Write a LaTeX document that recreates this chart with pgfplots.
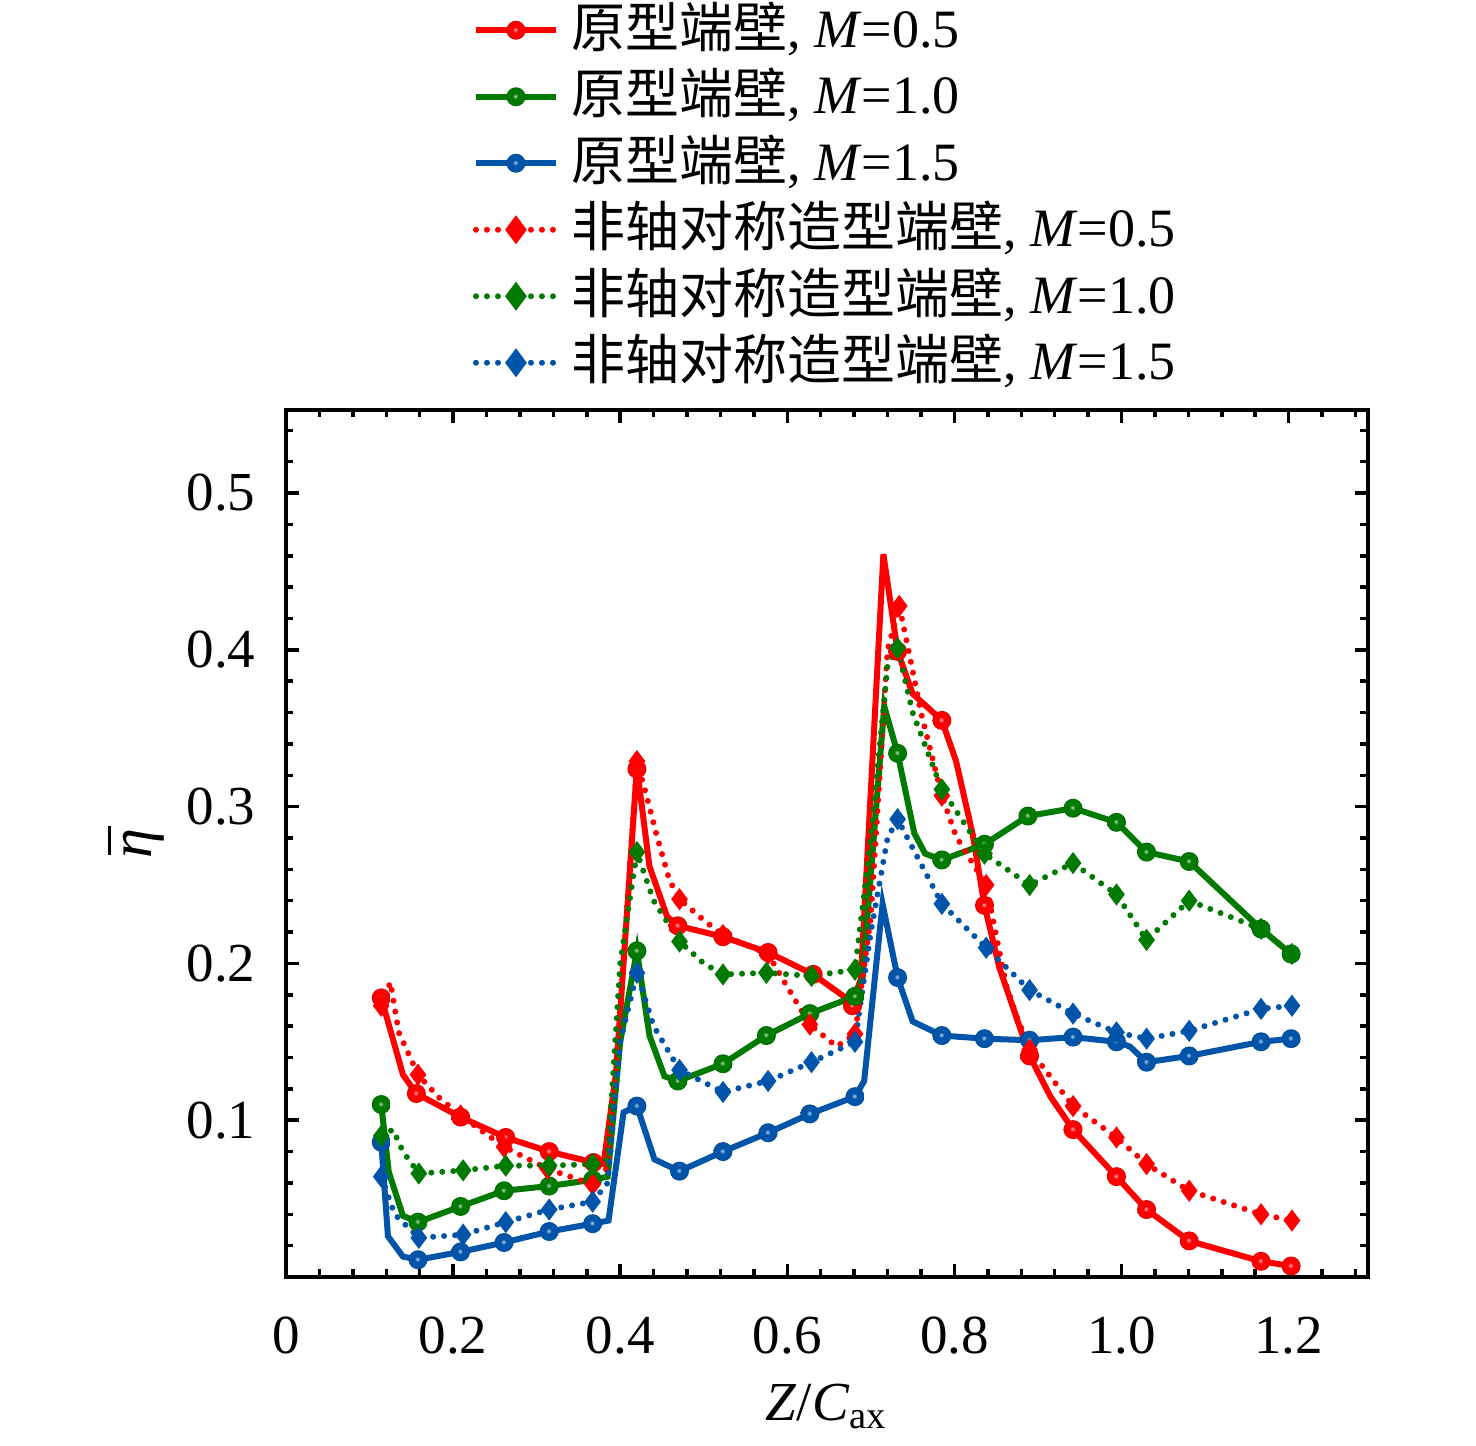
\documentclass[border=0pt]{standalone}
\usepackage{fontspec}
\setmainfont{Liberation Serif}
\newfontfamily\cjk{Noto Sans CJK SC}
\usepackage{pgfplots}
\pgfplotsset{compat=1.18}
\definecolor{cR}{RGB}{255,0,0}
\definecolor{cG}{RGB}{0,122,0}
\definecolor{cB}{RGB}{0,85,170}
\pgfdeclareradialshading{shR}{\pgfqpoint{-2bp}{2bp}}{color(0bp)=(cR!35!white); color(3bp)=(cR!55!white); color(7bp)=(cR); color(21bp)=(cR); color(25bp)=(cR!85!black); color(50bp)=(cR!85!black)}
\pgfdeclareradialshading{shG}{\pgfqpoint{-2bp}{2bp}}{color(0bp)=(cG!35!white); color(3bp)=(cG!55!white); color(7bp)=(cG); color(21bp)=(cG); color(25bp)=(cG!85!black); color(50bp)=(cG!85!black)}
\pgfdeclareradialshading{shB}{\pgfqpoint{-2bp}{2bp}}{color(0bp)=(cB!35!white); color(3bp)=(cB!55!white); color(7bp)=(cB); color(21bp)=(cB); color(25bp)=(cB!85!black); color(50bp)=(cB!85!black)}
\pgfdeclareplotmark{ballR}{\pgfpathcircle{\pgfpointorigin}{\pgfplotmarksize}\pgfshadepath{shR}{0}\pgfusepath{discard}}
\pgfdeclareplotmark{ballG}{\pgfpathcircle{\pgfpointorigin}{\pgfplotmarksize}\pgfshadepath{shG}{0}\pgfusepath{discard}}
\pgfdeclareplotmark{ballB}{\pgfpathcircle{\pgfpointorigin}{\pgfplotmarksize}\pgfshadepath{shB}{0}\pgfusepath{discard}}
\pgfplotsset{
  sline/.style={line width=1.2pt, solid},
  dline/.style={line width=1.2pt, dash pattern=on 0pt off 2.2pt, line cap=round},
}
\begin{document}
\begin{tikzpicture}
\useasboundingbox (-57.2pt,-33.8pt) rectangle (238pt,255.4pt);
\begin{axis}[
  at={(0,0)}, anchor=south west,
  scale only axis, width=216.4pt, height=173.4pt,
  xmin=0, xmax=1.295, ymin=0, ymax=0.553,
  xtick={0,0.2,0.4,0.6,0.8,1.0,1.2},
  xticklabels={0,0.2,0.4,0.6,0.8,1.0,1.2},
  ytick={0.1,0.2,0.3,0.4,0.5},
  yticklabels={0.1,0.2,0.3,0.4,0.5},
  minor xtick={0.04,0.08,0.12,0.16,0.24,0.28,0.32,0.36,0.44,0.48,0.52,0.56,0.64,0.68,0.72,0.76,0.84,0.88,0.92,0.96,1.04,1.08,1.12,1.16,1.24,1.28},
  minor ytick={0.02,0.04,0.06,0.08,0.12,0.14,0.16,0.18,0.22,0.24,0.26,0.28,0.32,0.34,0.36,0.38,0.42,0.44,0.46,0.48,0.52,0.54},
  tick align=inside,
  major tick length=2.6pt, minor tick length=1.5pt,
  axis line style={line width=0.7pt},
  every tick/.append style={line width=0.7pt, black},
  tick label style={font=\fontsize{11}{13}\selectfont},
  /pgf/number format/assume math mode=true,
  xticklabel style={yshift=-4.5pt},
  yticklabel style={xshift=-2.6pt},
  xlabel={\fontsize{11}{13}\selectfont\textit{Z}/\textit{C}\textsubscript{ax}},
  ylabel={\fontsize{12}{14}\selectfont\rlap{\hspace{0.7pt}\rule[8.2pt]{5.8pt}{0.6pt}}\textit{η}},
  xlabel style={yshift=1pt},
  ylabel style={yshift=-2.5pt},
  legend style={at={(rel axis cs:0.158,1.489)}, anchor=north west, draw=none, fill=none,
    font=\fontsize{10.8}{13}\selectfont, row sep=0pt,
    nodes={inner sep=0.5pt, text height=9.5pt, text depth=2.8pt}},
  legend cell align=left,
  legend image code/.code={\draw[mark repeat=2,mark phase=2,#1] plot coordinates {(0pt,0pt)(8pt,0pt)(16pt,0pt)};},
]
\addlegendimage{cR, sline, mark=ballR, mark size=1.9pt}
\addlegendentry{\hspace*{2pt}{\cjk 原型端壁}, \textit{M}=0.5}
\addlegendimage{cG, sline, mark=ballG, mark size=1.9pt}
\addlegendentry{\hspace*{2pt}{\cjk 原型端壁}, \textit{M}=1.0}
\addlegendimage{cB, sline, mark=ballB, mark size=1.9pt}
\addlegendentry{\hspace*{2pt}{\cjk 原型端壁}, \textit{M}=1.5}
\addlegendimage{cR, dline, mark=diamond*, mark size=1.9pt, mark options={solid, fill=cR}}
\addlegendentry{\hspace*{2pt}{\cjk 非轴对称造型端壁}, \textit{M}=0.5}
\addlegendimage{cG, dline, mark=diamond*, mark size=1.9pt, mark options={solid, fill=cG}}
\addlegendentry{\hspace*{2pt}{\cjk 非轴对称造型端壁}, \textit{M}=1.0}
\addlegendimage{cB, dline, mark=diamond*, mark size=1.9pt, mark options={solid, fill=cB}}
\addlegendentry{\hspace*{2pt}{\cjk 非轴对称造型端壁}, \textit{M}=1.5}

% ---------- solid lines ----------
\addplot[cR, sline, no marks, forget plot] coordinates {
(0.114,0.178) (0.14,0.129) (0.156,0.117) (0.209,0.102) (0.263,0.089) (0.315,0.080) (0.368,0.073) (0.38,0.072) (0.395,0.13) (0.42,0.325) (0.435,0.262) (0.456,0.230) (0.469,0.224) (0.523,0.217) (0.577,0.207) (0.631,0.193) (0.678,0.175) (0.688,0.19) (0.715,0.461) (0.732,0.399) (0.750,0.372) (0.785,0.355) (0.802,0.329) (0.822,0.282) (0.836,0.237) (0.854,0.197) (0.89,0.141) (0.915,0.115) (0.942,0.094) (0.994,0.064) (1.030,0.043) (1.081,0.023) (1.167,0.010) (1.203,0.007)};
\addplot[cG, sline, no marks, forget plot] coordinates {
(0.114,0.110) (0.123,0.067) (0.14,0.039) (0.158,0.035) (0.209,0.045) (0.261,0.055) (0.315,0.058) (0.367,0.062) (0.385,0.064) (0.40,0.15) (0.42,0.208) (0.435,0.154) (0.453,0.128) (0.469,0.125) (0.523,0.136) (0.575,0.154) (0.627,0.168) (0.681,0.179) (0.69,0.19) (0.716,0.364) (0.732,0.334) (0.752,0.283) (0.765,0.270) (0.785,0.266) (0.836,0.276) (0.888,0.294) (0.942,0.299) (0.994,0.290) (1.03,0.271) (1.081,0.265) (1.167,0.222) (1.203,0.206)};
\addplot[cB, sline, no marks, forget plot] coordinates {
(0.114,0.086) (0.122,0.026) (0.14,0.013) (0.158,0.011) (0.209,0.016) (0.261,0.022) (0.315,0.029) (0.367,0.034) (0.386,0.036) (0.404,0.105) (0.42,0.109) (0.441,0.075) (0.471,0.0675) (0.523,0.080) (0.577,0.092) (0.627,0.104) (0.681,0.115) (0.692,0.125) (0.714,0.238) (0.732,0.191) (0.750,0.163) (0.785,0.154) (0.836,0.152) (0.89,0.151) (0.942,0.153) (0.994,0.150) (1.01,0.147) (1.03,0.137) (1.081,0.141) (1.167,0.150) (1.203,0.152)};

% ---------- dotted lines ----------
\addplot[cR, dline, no marks, forget plot] coordinates {
(0.114,0.173) (0.125,0.188) (0.135,0.156) (0.147,0.142) (0.158,0.129) (0.182,0.115) (0.209,0.103) (0.261,0.083) (0.313,0.069) (0.367,0.059) (0.385,0.070) (0.40,0.17) (0.42,0.329) (0.432,0.306) (0.444,0.281) (0.459,0.253) (0.471,0.241) (0.499,0.228) (0.523,0.218) (0.577,0.206) (0.60,0.185) (0.627,0.161) (0.659,0.147) (0.681,0.155) (0.70,0.23) (0.72,0.40) (0.734,0.428) (0.745,0.40) (0.76,0.36) (0.785,0.307) (0.802,0.281) (0.838,0.250) (0.851,0.215) (0.862,0.186) (0.874,0.167) (0.89,0.145) (0.942,0.109) (0.994,0.089) (1.03,0.072) (1.081,0.055) (1.167,0.040) (1.204,0.036)};
\addplot[cG, dline, no marks, forget plot] coordinates {
(0.114,0.090) (0.128,0.094) (0.14,0.080) (0.159,0.066) (0.212,0.068) (0.263,0.071) (0.315,0.071) (0.367,0.072) (0.385,0.075) (0.40,0.20) (0.42,0.271) (0.44,0.240) (0.471,0.214) (0.50,0.200) (0.523,0.193) (0.575,0.194) (0.629,0.192) (0.681,0.196) (0.70,0.28) (0.72,0.39) (0.732,0.401) (0.75,0.36) (0.785,0.311) (0.836,0.270) (0.89,0.250) (0.942,0.264) (0.994,0.244) (1.03,0.215) (1.081,0.240) (1.167,0.222) (1.204,0.206)};
\addplot[cB, dline, no marks, forget plot] coordinates {
(0.114,0.064) (0.13,0.040) (0.159,0.025) (0.212,0.027) (0.263,0.035) (0.315,0.043) (0.367,0.048) (0.385,0.060) (0.40,0.15) (0.42,0.194) (0.44,0.160) (0.471,0.132) (0.523,0.118) (0.577,0.125) (0.629,0.137) (0.681,0.150) (0.70,0.22) (0.72,0.28) (0.732,0.292) (0.785,0.238) (0.838,0.210) (0.89,0.183) (0.942,0.168) (0.994,0.156) (1.03,0.152) (1.081,0.157) (1.167,0.171) (1.204,0.173)};

% ---------- markers ----------
\addplot[only marks, forget plot, mark=ballR, mark size=1.9pt] coordinates {
(0.114,0.178) (0.156,0.117) (0.209,0.102) (0.263,0.089) (0.315,0.080) (0.368,0.073) (0.42,0.324) (0.469,0.224) (0.523,0.217) (0.577,0.207) (0.631,0.193) (0.678,0.173) (0.732,0.399) (0.785,0.355) (0.836,0.237) (0.89,0.141) (0.942,0.094) (0.994,0.064) (1.03,0.043) (1.081,0.023) (1.167,0.010) (1.203,0.007)};
\addplot[only marks, forget plot, mark=ballG, mark size=1.9pt] coordinates {
(0.114,0.110) (0.158,0.035) (0.209,0.045) (0.261,0.055) (0.315,0.058) (0.367,0.062) (0.42,0.208) (0.469,0.125) (0.523,0.136) (0.575,0.154) (0.627,0.168) (0.681,0.179) (0.732,0.334) (0.785,0.266) (0.836,0.276) (0.888,0.294) (0.942,0.299) (0.994,0.290) (1.03,0.271) (1.081,0.265) (1.167,0.222) (1.203,0.206)};
\addplot[only marks, forget plot, mark=ballB, mark size=1.9pt] coordinates {
(0.114,0.086) (0.158,0.011) (0.209,0.016) (0.261,0.022) (0.315,0.029) (0.367,0.034) (0.42,0.109) (0.471,0.0675) (0.523,0.080) (0.577,0.092) (0.627,0.104) (0.681,0.115) (0.732,0.191) (0.785,0.154) (0.836,0.152) (0.89,0.151) (0.942,0.153) (0.994,0.150) (1.03,0.137) (1.081,0.141) (1.167,0.150) (1.203,0.152)};
\addplot[only marks, forget plot, mark=diamond*, mark size=1.9pt, cR, mark options={fill=cR}] coordinates {
(0.114,0.173) (0.158,0.129) (0.209,0.103) (0.261,0.083) (0.313,0.069) (0.367,0.059) (0.42,0.329) (0.471,0.241) (0.523,0.218) (0.577,0.206) (0.627,0.161) (0.681,0.155) (0.734,0.428) (0.785,0.307) (0.838,0.250) (0.89,0.145) (0.942,0.109) (0.994,0.089) (1.03,0.072) (1.081,0.055) (1.167,0.040) (1.204,0.036)};
\addplot[only marks, forget plot, mark=diamond*, mark size=1.9pt, cG, mark options={fill=cG}] coordinates {
(0.114,0.090) (0.159,0.066) (0.212,0.068) (0.263,0.071) (0.315,0.071) (0.367,0.072) (0.42,0.271) (0.471,0.214) (0.523,0.193) (0.575,0.194) (0.629,0.192) (0.681,0.196) (0.732,0.401) (0.785,0.311) (0.836,0.270) (0.89,0.250) (0.942,0.264) (0.994,0.244) (1.03,0.215) (1.081,0.240) (1.167,0.222) (1.204,0.206)};
\addplot[only marks, forget plot, mark=diamond*, mark size=1.9pt, cB, mark options={fill=cB}] coordinates {
(0.114,0.064) (0.159,0.025) (0.212,0.027) (0.263,0.035) (0.315,0.043) (0.367,0.048) (0.42,0.194) (0.471,0.132) (0.523,0.118) (0.577,0.125) (0.629,0.137) (0.681,0.150) (0.732,0.292) (0.785,0.238) (0.838,0.210) (0.89,0.183) (0.942,0.168) (0.994,0.156) (1.03,0.152) (1.081,0.157) (1.167,0.171) (1.204,0.173)};
\end{axis}
\end{tikzpicture}
\end{document}
